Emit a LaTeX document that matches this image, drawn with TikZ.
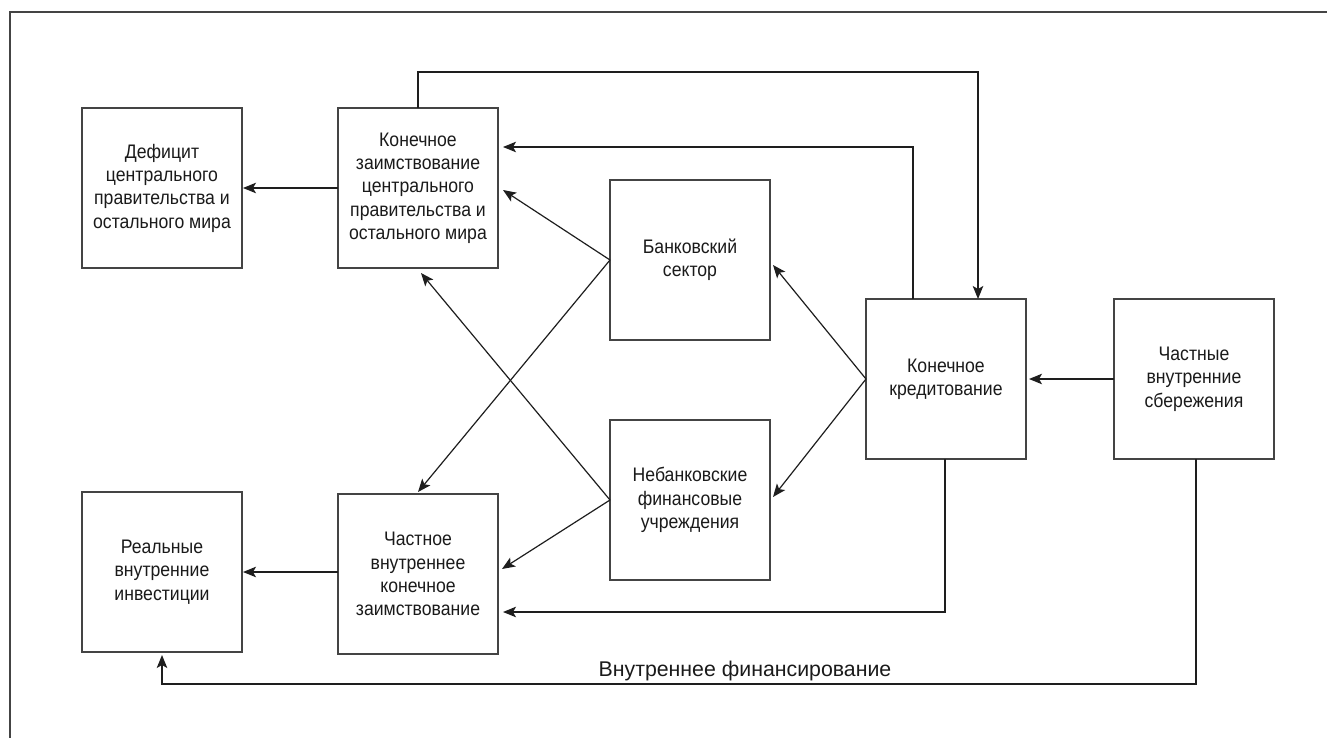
\documentclass[tikz,border=0pt]{standalone}
\usepackage{fontspec}
\usetikzlibrary{arrows.meta,calc}
\newfontfamily\boxfont{Liberation Sans}[FakeStretch=0.9]
\newfontfamily\lblfont{Liberation Sans}
\definecolor{boxline}{HTML}{444444}
\definecolor{arrline}{HTML}{1E1E1E}
\definecolor{txt}{HTML}{1A1A1A}
\begin{document}
\begin{tikzpicture}[x=1pt,y=-1pt,
  blk/.style={draw=boxline,line width=1.4pt,minimum width=160,minimum height=160,
    inner sep=0pt,outer sep=0pt,align=center,text=txt,
    font=\boxfont\fontsize{19.6}{23.3}\selectfont},
  arr/.style={draw=arrline,line width=1.2pt,-{Stealth[length=13pt,width=10.5pt,inset=3pt]}},
  ln/.style={draw=arrline,line width=1.2pt}]
\useasboundingbox (0,0) rectangle (1327,738);
\draw[draw=boxline,line width=1.6pt] (10,738) -- (10,12) -- (1327,12);

\node[blk] (def) at (162,188) {Дефицит\\центрального\\правительства и\\остального мира};
\node[blk] (cgb) at (418,188) {Конечное\\заимствование\\центрального\\правительства и\\остального мира};
\node[blk] (bank) at (690,260) {Банковский\\сектор};
\node[blk] (nonbank) at (690,500) {Небанковские\\финансовые\\учреждения};
\node[blk] (kred) at (946,379) {Конечное\\кредитование};
\node[blk] (sav) at (1194,379) {Частные\\внутренние\\сбережения};
\node[blk] (inv) at (162,572) {Реальные\\внутренние\\инвестиции};
\node[blk] (priv) at (418,574) {Частное\\внутреннее\\конечное\\заимствование};

% horizontal simple arrows
\draw[arr] (cgb.west) -- ($(def.east)+(1,0)$);
\draw[arr] (priv.west |- inv.east) -- ($(inv.east)+(1,0)$);
\draw[arr] (sav.west) -- ($(kred.east)+(3,0)$);

% top loops
\draw[arr] (cgb.north) -- ++(0,-36) -| ($(kred.north)+(32,0)$);
\draw[arr] ($(kred.north)+(-33,0)$) |- ($(cgb.east)+(5,-41)$);

% from banking sector
\draw[arr] (bank.west) -- ($(cgb.east)+(5,2)$);
\draw[arr] (bank.west) -- ($(priv.north)+(0,-2)$);

% from non-bank
\draw[arr] (nonbank.west) -- ($(cgb.south)+(3,5)$);
\draw[arr] (nonbank.west) -- ($(priv.east)+(4,-5)$);

% from final lending
\draw[arr] (kred.west) -- ($(bank.east)+(3,5)$);
\draw[arr] (kred.west) -- ($(nonbank.east)+(3,-3)$);
\draw[arr] ($(kred.south)+(-1,0)$) |- ($(priv.east)+(5,38)$);

% internal financing
\draw[arr] ($(sav.south)+(2,0)$) -- ++(0,225) -| ($(inv.south)+(0,3)$);
\node[anchor=base,text=txt,font=\lblfont\fontsize{21.3}{25}\selectfont,inner sep=0pt] (lbl) at (745,676) {Внутреннее финансирование};
\end{tikzpicture}
\end{document}
